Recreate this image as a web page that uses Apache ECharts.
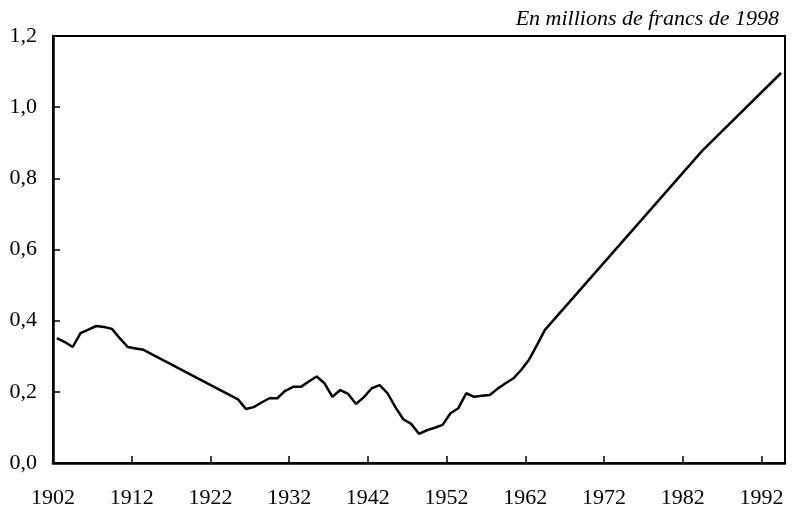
<!DOCTYPE html>
<html>
<head>
<meta charset="utf-8">
<script src="https://cdn.jsdelivr.net/npm/echarts@6/dist/echarts.min.js"></script>
<style>
  html, body { margin: 0; padding: 0; background: #fff; }
  #chart { width: 792px; height: 512px; }
</style>
</head>
<body>
<div id="chart"></div>
<script>
  // années (points plottés au milieu de l'année)
  var years = [1902, 1903, 1904, 1905, 1906, 1907, 1908, 1909, 1910, 1911, 1912, 1913,
               1925, 1926, 1927, 1928, 1929, 1930, 1931, 1932, 1933, 1934, 1935, 1936,
               1937, 1938, 1939, 1940, 1941, 1942, 1943, 1944, 1945, 1946, 1947, 1948,
               1949, 1950, 1951, 1952, 1953, 1954, 1955, 1956, 1957, 1958, 1959, 1960,
               1961, 1962, 1963, 1964, 1984, 1994];
  // en millions de francs de 1998
  var values = [0.351, 0.340, 0.326, 0.365, 0.375, 0.385, 0.382, 0.377, 0.350, 0.326, 0.322, 0.318,
                0.179, 0.152, 0.157, 0.170, 0.182, 0.182, 0.203, 0.214, 0.214, 0.229, 0.243, 0.224,
                0.186, 0.205, 0.194, 0.166, 0.185, 0.210, 0.219, 0.196, 0.157, 0.123, 0.110, 0.082,
                0.092, 0.099, 0.107, 0.140, 0.154, 0.196, 0.186, 0.189, 0.191, 0.209, 0.224, 0.238,
                0.262, 0.291, 0.332, 0.374, 0.878, 1.096];
  var xTicks = [1902, 1912, 1922, 1932, 1942, 1952, 1962, 1972, 1982, 1992];

  var seriesData = years.map(function (y, i) { return [y + 0.5, values[i]]; });
  var font = '"Liberation Serif", "DejaVu Serif", serif';

  var chart = echarts.init(document.getElementById('chart'), null, { renderer: 'canvas' });
  chart.setOption({
    animation: false,
    backgroundColor: '#fff',
    title: {
      text: 'En millions de francs de 1998',
      right: 8,
      top: 3,
      textStyle: { fontFamily: font, fontStyle: 'italic', fontWeight: 'normal', fontSize: 22, color: '#000' }
    },
    grid: {
      left: 53, right: 7, top: 36, bottom: 49,
      show: true, borderColor: '#000', borderWidth: 2
    },
    xAxis: {
      type: 'value',
      min: 1902,
      max: 1995,
      splitLine: { show: false },
      axisLine: { show: true, lineStyle: { color: '#000', width: 2.5 } },
      axisTick: { show: true, inside: true, length: 7, customValues: xTicks, lineStyle: { color: '#000', width: 1.5 } },
      axisLabel: {
        customValues: xTicks,
        margin: 24,
        fontFamily: font, fontSize: 22, color: '#000',
        formatter: function (v) { return String(v); }
      }
    },
    yAxis: {
      type: 'value',
      min: 0,
      max: 1.2,
      interval: 0.2,
      splitLine: { show: false },
      axisLine: { show: true, lineStyle: { color: '#000', width: 2.5 } },
      axisTick: { show: true, inside: true, length: 7, lineStyle: { color: '#000', width: 1.5 } },
      axisLabel: {
        margin: 16,
        fontFamily: font, fontSize: 22, color: '#000',
        formatter: function (v) { return v.toFixed(1).replace('.', ','); }
      }
    },
    series: [{
      type: 'line',
      data: seriesData,
      showSymbol: false,
      lineStyle: { color: '#000', width: 2.5 },
      itemStyle: { color: '#000' }
    }]
  });
</script>
</body>
</html>
